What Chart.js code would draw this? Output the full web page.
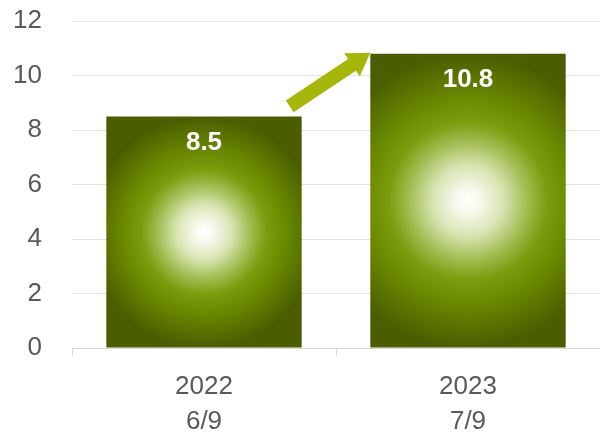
<!DOCTYPE html>
<html>
<head>
<meta charset="utf-8">
<script src="https://cdn.jsdelivr.net/npm/chart.js@4/dist/chart.umd.min.js"></script>
<style>
  html, body { margin: 0; padding: 0; background: #ffffff; }
  #wrap { width: 600px; height: 433px; }
</style>
</head>
<body>
<div id="wrap"><canvas id="growth-chart"></canvas></div>
<script>
// data
const categories = [['2022', '6/9'], ['2023', '7/9']];
const values = [8.5, 10.8];
const yTicks = [0, 2, 4, 6, 8, 10, 12];

const FONT = '"Liberation Sans", Arial, sans-serif';

document.addEventListener("DOMContentLoaded", function () {
    const canvas = document.getElementById('growth-chart');
    const ctx = canvas.getContext('2d');

    // radial "glow" fill, white in the middle of each bar, dark olive at the edges
    function barFill(context) {
        const chart = context.chart;
        if (!chart.chartArea || context.dataIndex === undefined) return '#6b8a00';
        const xs = chart.scales.x, ys = chart.scales.y;
        const cx = xs.getPixelForValue(context.dataIndex);
        const top = ys.getPixelForValue(values[context.dataIndex]);
        const bottom = ys.getPixelForValue(0);
        const cy = (top + bottom) / 2;
        const halfW = xs.width / categories.length * 0.75 / 2;
        const r = Math.max(halfW, (bottom - top) / 2);
        const g = chart.ctx.createRadialGradient(cx, cy, 0, cx, cy, r);
        g.addColorStop(0, '#ffffff');
        g.addColorStop(0.08, '#f7f9ee');
        g.addColorStop(0.24, '#d8e4b2');
        g.addColorStop(0.4, '#a2bd52');
        g.addColorStop(0.54, '#7c9b0e');
        g.addColorStop(0.7, '#6a8900');
        g.addColorStop(1, '#4a5d00');
        return g;
    }

    const extras = {
        id: 'extras',
        afterDatasetsDraw(chart) {
            const c = chart.ctx;
            const bars = chart.getDatasetMeta(0).data;
            // value labels
            c.save();
            c.fillStyle = '#ffffff';
            c.font = 'bold 26px ' + FONT;
            c.textAlign = 'center';
            c.textBaseline = 'middle';
            bars.forEach(function (b, i) {
                c.fillText(String(values[i]), b.x, b.y + 26);
            });
            // arrow from first bar top to second bar top
            const b1 = bars[0], b2 = bars[1];
            const x0 = b1.x + b1.width / 2 - 12, y0 = b1.y - 10;
            const x1 = b2.x - b2.width / 2, y1 = b2.y - 1;
            const ang = Math.atan2(y1 - y0, x1 - x0);
            const len = Math.hypot(x1 - x0, y1 - y0);
            const sw = 7, hw = 14, hl = 22;
            c.translate(x0, y0);
            c.rotate(ang);
            c.beginPath();
            c.moveTo(0, -sw);
            c.lineTo(len - hl, -sw);
            c.lineTo(len - hl, -hw);
            c.lineTo(len, 0);
            c.lineTo(len - hl, hw);
            c.lineTo(len - hl, sw);
            c.lineTo(0, sw);
            c.closePath();
            c.fillStyle = '#a6b60a';
            c.fill();
            c.restore();
        }
    };

    new Chart(ctx, {
        type: 'bar',
        data: {
            labels: categories,
            datasets: [{
                data: values,
                backgroundColor: barFill,
                borderWidth: 0,
                barPercentage: 0.74,
                categoryPercentage: 1
            }]
        },
        options: {
            responsive: true,
            maintainAspectRatio: false,
            animation: false,
            layout: { padding: { left: 0, right: -4, top: 21, bottom: 0 } },
            plugins: {
                legend: { display: false },
                tooltip: { enabled: false }
            },
            scales: {
                x: {
                    afterFit: function (axis) { axis.height = 85; },
                    grid: {
                        display: true,
                        drawOnChartArea: false,
                        offset: true,
                        tickLength: 8,
                        color: '#d9d9d9'
                    },
                    border: { display: true, color: '#d9d9d9' },
                    ticks: {
                        color: '#595959',
                        font: { size: 26, family: FONT, lineHeight: 1.35 },
                        padding: 13
                    }
                },
                y: {
                    min: 0,
                    max: 12,
                    afterFit: function (axis) {
                        axis.width = 72;
                        axis.paddingTop = 0;
                        axis.paddingBottom = 0;
                    },
                    afterBuildTicks: function (axis) {
                        axis.ticks = yTicks.map(function (v) { return { value: v }; });
                    },
                    grid: { color: '#e3e3e3', drawTicks: false },
                    border: { display: false },
                    ticks: {
                        color: '#595959',
                        font: { size: 26, family: FONT },
                        padding: 30
                    }
                }
            }
        },
        plugins: [extras]
    });
});
</script>
</body>
</html>
